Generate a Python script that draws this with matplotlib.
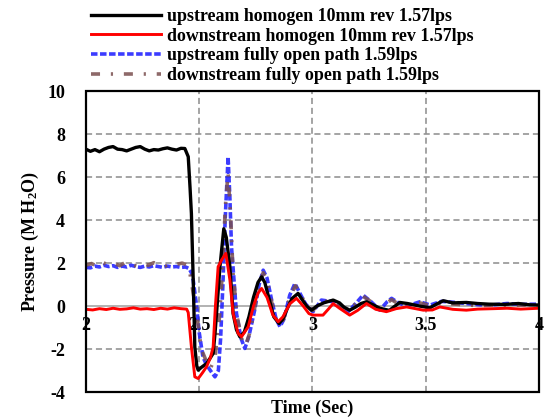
import matplotlib
matplotlib.use("Agg")
import matplotlib.pyplot as plt
from matplotlib.patches import Rectangle

plt.rcParams['font.family'] = ['Liberation Serif', 'DejaVu Serif']
plt.rcParams['font.weight'] = 'bold'
plt.rcParams['mathtext.default'] = 'regular'
plt.rcParams['axes.unicode_minus'] = False

# ---------------- data ----------------
up_homo_t = [2.000, 2.020, 2.040, 2.060, 2.080, 2.100, 2.120, 2.140, 2.160, 2.180,
             2.200, 2.220, 2.240, 2.260, 2.280, 2.300, 2.320, 2.340, 2.360, 2.380,
             2.400, 2.420, 2.437, 2.452, 2.460, 2.466, 2.474, 2.481, 2.490, 2.496,
             2.510, 2.533, 2.550, 2.562, 2.570, 2.577, 2.592, 2.609, 2.620, 2.636,
             2.650, 2.665, 2.680, 2.700, 2.720, 2.740, 2.760, 2.776, 2.790, 2.810,
             2.830, 2.853, 2.870, 2.890, 2.910, 2.937, 2.955, 2.975, 2.996, 3.020,
             3.050, 3.092, 3.120, 3.140, 3.165, 3.190, 3.215, 3.239, 3.270, 3.298,
             3.340, 3.386, 3.420, 3.475, 3.519, 3.550, 3.578, 3.620, 3.680, 3.730,
             3.780, 3.850, 3.910, 3.960, 4.000]
up_homo_p = [7.30, 7.20, 7.28, 7.18, 7.30, 7.38, 7.42, 7.30, 7.28, 7.22,
             7.30, 7.38, 7.42, 7.30, 7.22, 7.28, 7.26, 7.32, 7.36, 7.30,
             7.26, 7.34, 7.33, 6.95, 5.50, 4.30, 1.20, -1.90, -2.80, -2.98,
             -2.85, -2.67, -2.40, -2.20, -1.30, -0.34, 1.83, 3.60, 3.20, 1.83,
             -0.34, -1.10, -1.43, -1.20, -0.50, 0.40, 1.10, 1.36, 1.10, 0.30,
             -0.50, -0.81, -0.60, -0.10, 0.35, 0.59, 0.30, 0.00, -0.19, 0.00,
             0.15, 0.28, 0.15, -0.05, -0.19, -0.05, 0.12, 0.20, 0.05, -0.10,
             -0.20, 0.17, 0.12, 0.00, -0.08, 0.10, 0.25, 0.15, 0.17, 0.12,
             0.09, 0.08, 0.12, 0.06, 0.05]

down_homo_t = [2.000, 2.030, 2.060, 2.090, 2.120, 2.150, 2.180, 2.210, 2.240, 2.270,
               2.300, 2.330, 2.360, 2.390, 2.420, 2.445, 2.452, 2.466, 2.481, 2.496,
               2.515, 2.533, 2.550, 2.562, 2.572, 2.584, 2.599, 2.618, 2.636, 2.650,
               2.672, 2.687, 2.717, 2.740, 2.760, 2.776, 2.800, 2.825, 2.849, 2.870,
               2.900, 2.930, 2.960, 2.985, 3.003, 3.047, 3.070, 3.092, 3.120, 3.165,
               3.200, 3.239, 3.280, 3.327, 3.370, 3.416, 3.490, 3.530, 3.563, 3.620,
               3.680, 3.730, 3.800, 3.860, 3.920, 4.000]
down_homo_p = [-0.15, -0.18, -0.12, -0.16, -0.10, -0.15, -0.13, -0.08, -0.14, -0.12,
               -0.16, -0.10, -0.14, -0.08, -0.12, -0.14, -0.30, -1.90, -3.29, -3.37,
               -3.10, -2.82, -2.40, -1.90, 0.00, 1.83, 2.14, 2.45, 1.21, -0.34,
               -1.27, -1.43, -0.96, 0.00, 0.60, 0.82, 0.40, -0.40, -0.73, -0.50,
               0.10, 0.36, 0.00, -0.35, -0.42, -0.42, -0.15, 0.12, -0.10, -0.42,
               -0.20, 0.12, -0.15, -0.26, -0.12, -0.04, -0.19, -0.18, -0.04, -0.15,
               -0.19, -0.14, -0.12, -0.10, -0.14, -0.10]

up_open_t = [2.000, 2.020, 2.040, 2.060, 2.080, 2.100, 2.120, 2.140, 2.160, 2.180,
             2.200, 2.220, 2.240, 2.260, 2.280, 2.300, 2.320, 2.340, 2.360, 2.380,
             2.400, 2.420, 2.440, 2.455, 2.466, 2.474, 2.489, 2.500, 2.517, 2.533,
             2.550, 2.570, 2.585, 2.595, 2.605, 2.615, 2.628, 2.636, 2.643, 2.665,
             2.685, 2.702, 2.720, 2.745, 2.765, 2.783, 2.800, 2.820, 2.840, 2.857,
             2.875, 2.900, 2.923, 2.945, 2.970, 3.003, 3.040, 3.092, 3.130, 3.158,
             3.190, 3.224, 3.260, 3.298, 3.330, 3.350, 3.380, 3.416, 3.475, 3.520,
             3.570, 3.620, 3.680, 3.740, 3.800, 3.860, 3.920, 4.000]
up_open_p = [1.80, 1.78, 1.86, 1.82, 1.90, 1.84, 1.88, 1.80, 1.86, 1.82,
             1.90, 1.84, 1.80, 1.86, 1.82, 1.88, 1.84, 1.80, 1.86, 1.82,
             1.84, 1.80, 1.82, 1.75, 1.55, 1.20, 0.00, -1.20, -2.37, -2.74,
             -3.00, -3.29, -3.00, -1.50, 1.00, 4.00, 6.95, 5.00, 2.76, -0.34,
             -1.50, -1.97, -1.40, -0.20, 1.00, 1.67, 1.30, 0.30, -0.60, -0.96,
             -0.60, 0.50, 1.05, 0.60, 0.10, -0.26, 0.28, 0.20, -0.05, -0.26,
             0.10, 0.51, 0.20, -0.19, 0.20, 0.36, 0.15, 0.00, 0.20, 0.05,
             0.22, 0.18, 0.12, 0.06, 0.06, 0.12, 0.08, 0.09]

down_open_t = [2.000, 2.025, 2.050, 2.075, 2.100, 2.125, 2.150, 2.175, 2.200, 2.225,
               2.250, 2.275, 2.300, 2.325, 2.350, 2.375, 2.400, 2.425, 2.445, 2.460,
               2.474, 2.485, 2.500, 2.510, 2.533, 2.550, 2.570, 2.590, 2.605, 2.615,
               2.628, 2.640, 2.650, 2.668, 2.690, 2.705, 2.725, 2.745, 2.765, 2.783,
               2.800, 2.820, 2.840, 2.857, 2.875, 2.900, 2.925, 2.945, 2.970, 3.003,
               3.040, 3.092, 3.130, 3.158, 3.190, 3.224, 3.260, 3.298, 3.330, 3.350,
               3.380, 3.416, 3.475, 3.520, 3.570, 3.620, 3.680, 3.740, 3.800, 3.860,
               3.920, 4.000]
down_open_p = [1.90, 1.98, 1.85, 2.02, 1.92, 1.98, 1.88, 2.04, 1.94, 1.86,
               1.98, 1.90, 2.02, 1.92, 1.86, 1.98, 1.94, 2.00, 1.92, 1.50,
               0.60, -0.10, -1.27, -2.00, -2.60, -2.90, -2.40, -0.50, 2.00, 4.50,
               6.20, 4.00, 1.50, -0.50, -1.60, -1.85, -1.20, -0.10, 1.00, 1.55,
               1.20, 0.20, -0.60, -0.90, -0.55, 0.40, 0.95, 0.60, 0.10, -0.20,
               0.25, 0.18, -0.05, -0.20, 0.10, 0.45, 0.20, -0.15, 0.15, 0.30,
               0.10, 0.00, 0.15, 0.02, 0.15, 0.10, 0.05, 0.02, 0.05, 0.02,
               0.05, 0.02]

labels = ["upstream homogen 10mm rev 1.57lps",
          "downstream homogen 10mm rev 1.57lps",
          "upstream fully open path 1.59lps",
          "downstream fully open path 1.59lps"]

x_ticks = [2, 2.5, 3, 3.5, 4]
x_tick_labels = ["2", "2.5", "3", "3.5", "4"]
y_ticks = [-4, -2, 0, 2, 4, 6, 8, 10]

# ---------------- figure ----------------
fig = plt.figure(figsize=(5.47, 4.18), dpi=100)
ax = fig.add_axes([0.157, 0.062, 0.828, 0.720])

l1, = ax.plot(up_homo_t, up_homo_p, color='black', lw=2.4, zorder=4, label=labels[0])
l2, = ax.plot(down_homo_t, down_homo_p, color='#ff0000', lw=2.1, zorder=5, label=labels[1])
l3, = ax.plot(up_open_t, up_open_p, color='#1a1aff', lw=2.6, ls=(0, (1.8, 0.7)),
              zorder=3, alpha=0.85, label=labels[2])
l4, = ax.plot(down_open_t, down_open_p, color='#7a4f4f', lw=2.6, ls=(0, (2.5, 3.0, 0.6, 3.0)),
              zorder=3.5, alpha=0.85, label=labels[3])

ax.set_xlim(2, 4)
ax.set_ylim(-4, 10)
ax.set_xticks(x_ticks)
ax.set_xticklabels(x_tick_labels)
ax.set_yticks(y_ticks)

# grid
grid_col = '#8c8c8c'
for yv in [-2, 2, 4, 6, 8]:
    ax.axhline(yv, color=grid_col, lw=1.1, ls=(0, (4, 2.5)), zorder=1)
for xv in [2.5, 3, 3.5]:
    ax.axvline(xv, color=grid_col, lw=1.1, ls=(0, (4, 2.5)), zorder=1)

# axis crossing at zero
for s in ['top', 'right', 'left']:
    ax.spines[s].set_visible(False)
ax.spines['bottom'].set_position(('data', 0))
ax.spines['bottom'].set_color('#a6a6a6')
ax.spines['bottom'].set_linewidth(1.2)
ax.spines['bottom'].set_zorder(1.5)
ax.add_patch(Rectangle((0, 0), 1, 1, transform=ax.transAxes, fill=False,
                       edgecolor='black', lw=1.6, zorder=6, clip_on=False))

ax.tick_params(axis='x', length=0, pad=8, labelsize=13)
ax.tick_params(axis='y', length=0, pad=15, labelsize=13)
for t in ax.get_xticklabels() + ax.get_yticklabels():
    t.set_fontweight('bold')

ax.set_xlabel("Time (Sec)", fontsize=13, fontweight='bold')
ax.xaxis.set_label_coords(0.5, -0.025)
ax.set_ylabel("Pressure (M H$_2$O)", fontsize=13, fontweight='bold')
ax.yaxis.set_label_coords(-0.100, 0.5)

leg = fig.legend(handles=[l1, l2, l3, l4], loc='upper left',
                 bbox_to_anchor=(0.163, 0.985), frameon=False,
                 prop={'family': 'Liberation Serif', 'weight': 'bold', 'size': 12.9},
                 handlelength=3.9, handletextpad=0.35, labelspacing=0.15,
                 borderpad=0.1, borderaxespad=0)

fig.savefig("out.png", dpi=100)
